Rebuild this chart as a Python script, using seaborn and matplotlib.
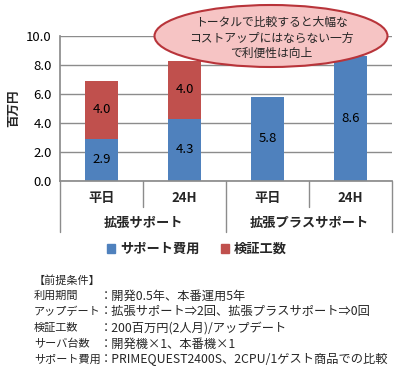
import numpy as np
import pandas as pd
import matplotlib
matplotlib.use("Agg")
import matplotlib.pyplot as plt
import seaborn as sns
from matplotlib.patches import Ellipse, Patch

# data
bars = ["拡張_平日", "拡張_24H", "プラス_平日", "プラス_24H"]
sub_labels = ["平日", "24H", "平日", "24H"]
group_labels = ["拡張サポート", "拡張プラスサポート"]
support_cost = [2.9, 4.3, 5.8, 8.6]
verify_cost = [4.0, 4.0, 0.0, 0.0]
series_names = ["サポート費用", "検証工数"]
notes_left = ["【前提条件】", "利用期間", "アップデート", "検証工数", "サーバ台数", "サポート費用"]
notes_right = ["", "：開発0.5年、本番運用5年", "：拡張サポート⇒2回、拡張プラスサポート⇒0回",
               "：200百万円(2人月)/アップデート", "：開発機×1、本番機×1",
               "：PRIMEQUEST2400S、2CPU/1ゲスト商品での比較"]
callout = "トータルで比較すると大幅な\nコストアップにはならない一方\nで利便性は向上"

blue = "#4F81BD"
red = "#C0504D"

sns.set_theme(style="white")
plt.rcParams["font.family"] = ["Noto Sans CJK JP", "DejaVu Sans"]

df = pd.DataFrame({"bar": bars, "support": support_cost, "verify": verify_cost})
df["total"] = df["support"] + df["verify"]

fig = plt.figure(figsize=(4.01, 3.72), dpi=100)
W, H = 401, 372
ax = fig.add_axes([60 / W, 1 - 181 / H, 332 / W, 145 / H])

# stacked bars: total (red) underneath, support (blue) on top
sns.barplot(data=df, x="bar", y="total", color=red, saturation=1, width=0.4,
            linewidth=0, ax=ax)
sns.barplot(data=df, x="bar", y="support", color=blue, saturation=1, width=0.4,
            linewidth=0, ax=ax)

for i, row in df.iterrows():
    ax.text(i, row["support"] / 2, f"{row['support']:.1f}", ha="center", va="center",
            fontsize=9.5, color="black")
    if row["verify"] > 0:
        ax.text(i, row["support"] + row["verify"] / 2, f"{row['verify']:.1f}",
                ha="center", va="center", fontsize=9.5, color="black")

ax.set_ylim(0, 10)
ax.set_xlim(-0.5, 3.5)
ax.set_yticks(np.arange(0, 10.1, 2))
ax.set_yticklabels([f"{v:.1f}" for v in np.arange(0, 10.1, 2)], fontsize=9.5)
ax.yaxis.grid(True, color="#8C8C8C", lw=1)
ax.set_axisbelow(True)
ax.set_xticks([])
ax.set_xlabel("")
ax.set_ylabel("百万円", fontsize=9, fontweight="bold", labelpad=4)
for s in ["top", "right"]:
    ax.spines[s].set_visible(False)
for s in ["left", "bottom"]:
    ax.spines[s].set_color("#8C8C8C")
ax.tick_params(axis="y", length=4, color="#8C8C8C", direction="out", pad=2, colors="black")

# multi-level category axis
to_ax = lambda y: (181 - y) / 145.0
for xv in [0.5, 2.5]:
    ax.plot([xv, xv], [0, to_ax(207) * 10], color="#8C8C8C", lw=1, clip_on=False)
for xv in [-0.5, 1.5, 3.5]:
    ax.plot([xv, xv], [0, to_ax(232) * 10], color="#8C8C8C", lw=1, clip_on=False)
for i, lab in enumerate(sub_labels):
    ax.text(i, to_ax(198) * 10, lab, ha="center", va="center", fontsize=9.5, fontweight="bold")
for g, lab in enumerate(group_labels):
    ax.text(0.5 + 2 * g, to_ax(223) * 10, lab, ha="center", va="center", fontsize=9.5,
            fontweight="bold")

# legend
handles = [Patch(color=blue), Patch(color=red)]
fig.legend(handles, series_names, loc="center", bbox_to_anchor=(197 / W, 1 - 249 / H),
           ncol=2, frameon=False, handlelength=0.6, handleheight=0.6, handletextpad=0.4,
           columnspacing=1.6, prop={"size": 9.5, "weight": "bold"})

# callout ellipse
e = Ellipse((271 / W, 1 - 36 / H), 233 / W, 62 / H, transform=fig.transFigure,
            facecolor="#F6C4C4", edgecolor="#B8343A", lw=1.5, zorder=5)
fig.add_artist(e)
fig.text(271 / W, 1 - 38 / H, callout, ha="center", va="center", fontsize=8.5,
         linespacing=1.25, zorder=6)

# notes
for k, (l, r) in enumerate(zip(notes_left, notes_right)):
    y = 1 - (280 + k * 16) / H
    fig.text(34 / W, y, l, ha="left", va="center", fontsize=8.0)
    if r:
        fig.text(100 / W, y, r, ha="left", va="center", fontsize=8.8)

fig.savefig("out.png", dpi=100)
